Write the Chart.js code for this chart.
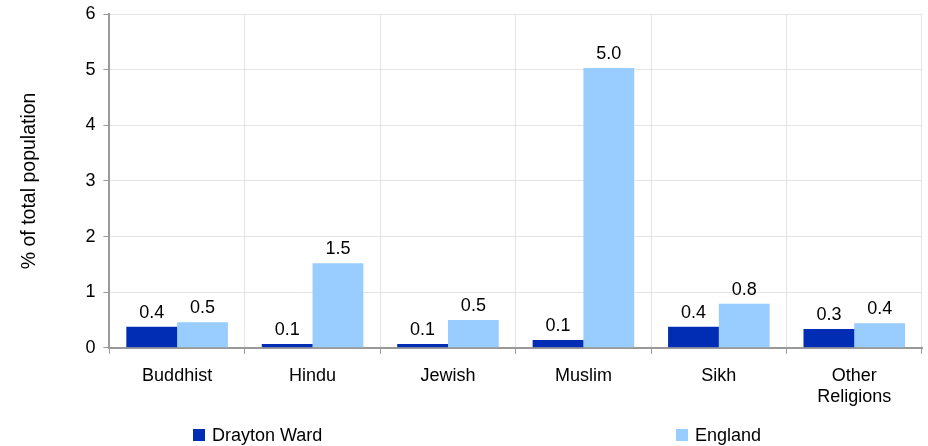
<!DOCTYPE html>
<html>
<head>
<meta charset="utf-8">
<script src="https://cdn.jsdelivr.net/npm/chart.js@4"></script>
<style>
  html, body { margin: 0; padding: 0; background: #fff; }
  #wrap { width: 928px; height: 446px; }
</style>
</head>
<body>
<div id="wrap"><canvas id="religionChart" width="928" height="446"></canvas></div>
<script>
// data
var categories = ['Buddhist', 'Hindu', 'Jewish', 'Muslim', 'Sikh', ['Other', 'Religions']];
var draytonWard = [0.38, 0.07, 0.07, 0.14, 0.38, 0.34];
var england = [0.46, 1.52, 0.5, 5.03, 0.79, 0.44];
var seriesNames = ['Drayton Ward', 'England'];
var yTicks = [0, 1, 2, 3, 4, 5, 6];

var fontFamily = '"Liberation Sans", Arial, sans-serif';

// value labels above each bar
var barLabels = {
  id: 'barLabels',
  afterDatasetsDraw: function(chart) {
    var ctx = chart.ctx;
    ctx.save();
    ctx.font = '18px ' + fontFamily;
    ctx.fillStyle = '#000';
    ctx.textAlign = 'center';
    ctx.textBaseline = 'bottom';
    chart.data.datasets.forEach(function(ds, i) {
      chart.getDatasetMeta(i).data.forEach(function(bar, j) {
        ctx.fillText(ds.data[j].toFixed(1), bar.x, bar.y - 5);
      });
    });
    ctx.restore();
  }
};

// legend spread across the bottom like the original
var spreadLegend = {
  id: 'spreadLegend',
  afterDraw: function(chart) {
    var ctx = chart.ctx;
    var y = chart.height - 11;
    var xs = [193, 676];
    ctx.save();
    ctx.font = '18px ' + fontFamily;
    ctx.textBaseline = 'middle';
    ctx.textAlign = 'left';
    chart.data.datasets.forEach(function(ds, i) {
      ctx.fillStyle = ds.backgroundColor;
      ctx.fillRect(xs[i], y - 6, 12, 12);
      ctx.fillStyle = '#000';
      ctx.fillText(ds.label, xs[i] + 19, y + 1);
    });
    ctx.restore();
  }
};

new Chart(document.getElementById('religionChart'), {
  type: 'bar',
  data: {
    labels: categories,
    datasets: [
      { label: seriesNames[0], data: draytonWard, backgroundColor: '#002db3' },
      { label: seriesNames[1], data: england, backgroundColor: '#99ccff' }
    ]
  },
  options: {
    responsive: false,
    animation: false,
    layout: { padding: { top: 14, right: 6, bottom: 27, left: 18 } },
    datasets: { bar: { categoryPercentage: 0.75, barPercentage: 1.0 } },
    plugins: {
      legend: { display: false },
      tooltip: { enabled: false }
    },
    scales: {
      x: {
        grid: {
          color: '#e4e4e4',
          offset: true,
          drawTicks: true,
          tickLength: 6,
          tickColor: '#999'
        },
        border: { color: '#999', width: 2 },
        ticks: {
          color: '#000',
          font: { family: fontFamily, size: 18 },
          padding: 11,
          maxRotation: 0
        }
      },
      y: {
        min: 0,
        max: 6,
        afterBuildTicks: function(axis) {
          axis.ticks = yTicks.map(function(v) { return { value: v }; });
        },
        afterFit: function(axis) {
          axis.paddingTop = 0;
        },
        grid: {
          color: '#e4e4e4',
          tickLength: 6,
          tickColor: '#999'
        },
        border: { color: '#999', width: 2 },
        ticks: {
          color: '#000',
          font: { family: fontFamily, size: 18 },
          padding: 8
        },
        title: {
          display: true,
          text: '% of total population',
          color: '#000',
          font: { family: fontFamily, size: 19.5 },
          padding: { top: 0, bottom: 36 }
        }
      }
    }
  },
  plugins: [barLabels, spreadLegend]
});
</script>
</body>
</html>
